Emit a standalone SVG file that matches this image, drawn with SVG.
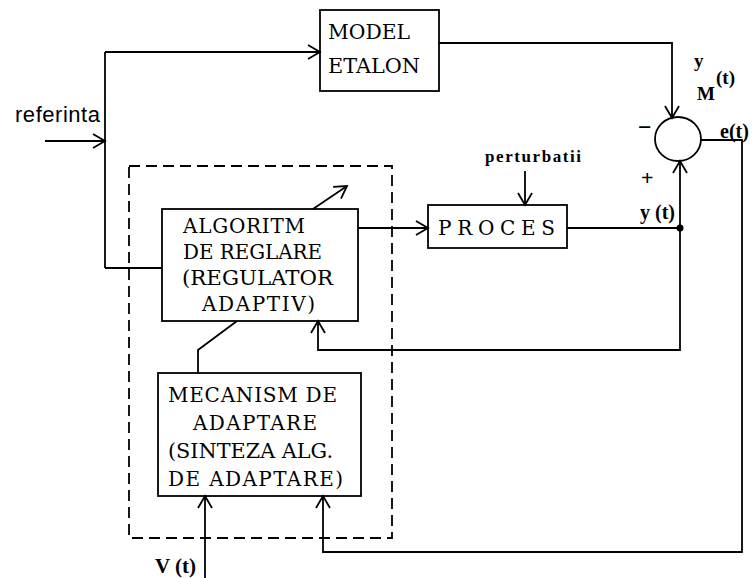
<svg xmlns="http://www.w3.org/2000/svg" width="753" height="578" viewBox="0 0 753 578">
<style>
.box{fill:none;stroke:#000;stroke-width:1.8}
.ln{fill:none;stroke:#000;stroke-width:1.8}
.arr{marker-end:url(#ah)}
.dash{fill:none;stroke:#000;stroke-width:1.8;stroke-dasharray:11 6}
.bt{font-family:"DejaVu Serif","Liberation Serif",serif;font-size:20px;fill:#000}
.lb{font-family:"Liberation Serif","Times New Roman",serif;font-weight:bold;fill:#000}
.sans{font-family:"Liberation Sans",Arial,sans-serif;font-size:22px;fill:#000}
</style>
<defs>
<marker id="ah" markerUnits="userSpaceOnUse" markerWidth="16" markerHeight="18" refX="13" refY="8" orient="auto">
<path d="M1,1 L13,8 L1,15" fill="none" stroke="#000" stroke-width="1.8"/>
</marker>
</defs>
<rect width="753" height="578" fill="#fff"/>

<g id="adaptive-boundary">
<rect class="dash" x="129" y="166" width="263" height="372"/>
</g>

<g id="connectors">
<line class="ln arr" x1="45" y1="141" x2="105" y2="141"/>
<line class="ln" x1="105" y1="52" x2="105" y2="268"/>
<line class="ln arr" x1="105" y1="52" x2="320" y2="52"/>
<line class="ln" x1="105" y1="268" x2="162" y2="268"/>
<polyline class="ln arr" points="439,43 672,43 672,118"/>
<line class="ln arr" x1="358" y1="228" x2="428" y2="228"/>
<line class="ln arr" x1="525" y1="171" x2="525" y2="205"/>
<line class="ln" x1="567" y1="228" x2="680" y2="228"/>
<line class="ln arr" x1="680" y1="228" x2="680" y2="161"/>
<polyline class="ln arr" points="680,228 680,350 318,350 318,321"/>
<polyline class="ln" points="237,321 198,350 198,373"/>
<line class="ln arr" x1="313" y1="209" x2="347" y2="186"/>
<polyline class="ln arr" points="701,140 742,140 742,552 323,552 323,496"/>
<line class="ln arr" x1="205" y1="578" x2="205" y2="496"/>
<circle cx="680" cy="228" r="3.5" fill="#000"/>
</g>

<g id="model-etalon">
<rect class="box" x="320" y="10" width="119" height="81"/>
<text class="bt" x="328" y="39" textLength="82" lengthAdjust="spacingAndGlyphs">MODEL</text>
<text class="bt" x="328" y="73" textLength="92" lengthAdjust="spacingAndGlyphs">ETALON</text>
</g>

<g id="algoritm">
<rect class="box" x="162" y="209" width="196" height="112"/>
<text class="bt" x="183" y="233" textLength="122" lengthAdjust="spacing">ALGORITM</text>
<text class="bt" x="183" y="259" textLength="139" lengthAdjust="spacingAndGlyphs">DE REGLARE</text>
<text class="bt" x="182" y="285" textLength="151" lengthAdjust="spacingAndGlyphs">(REGULATOR</text>
<text class="bt" x="202" y="311" textLength="113" lengthAdjust="spacing">ADAPTIV)</text>
</g>

<g id="proces">
<rect class="box" x="428" y="205" width="139" height="43"/>
<text class="bt" x="438" y="235" textLength="117" lengthAdjust="spacing">PROCES</text>
</g>

<g id="mecanism">
<rect class="box" x="158" y="373" width="203" height="123"/>
<text class="bt" x="168" y="402" textLength="169" lengthAdjust="spacing">MECANISM DE</text>
<text class="bt" x="193" y="430" textLength="124" lengthAdjust="spacing">ADAPTARE</text>
<text class="bt" x="168" y="458" textLength="165" lengthAdjust="spacingAndGlyphs">(SINTEZA ALG.</text>
<text class="bt" x="168" y="486" textLength="175" lengthAdjust="spacing">DE ADAPTARE)</text>
</g>

<g id="sum">
<ellipse class="box" cx="678" cy="139" rx="23" ry="22"/>
</g>

<g id="labels">
<text class="sans" x="15" y="122" textLength="85" lengthAdjust="spacing">referinta</text>
<text class="lb" x="485" y="162" font-size="17" font-weight="normal" textLength="96" lengthAdjust="spacing">perturbatii</text>
<text class="lb" x="638" y="135" font-size="24">−</text>
<text class="lb" x="641" y="185" font-size="22">+</text>
<text class="lb" x="640" y="219" font-size="20">y (t)</text>
<text class="lb" x="720" y="138" font-size="20">e(t)</text>
<text class="lb" x="694" y="67" font-size="19">y</text>
<text class="lb" x="697" y="100" font-size="19">M</text>
<text class="lb" x="716" y="84" font-size="19">(t)</text>
<text class="lb" x="155" y="573" font-size="21">V (t)</text>
</g>
</svg>
